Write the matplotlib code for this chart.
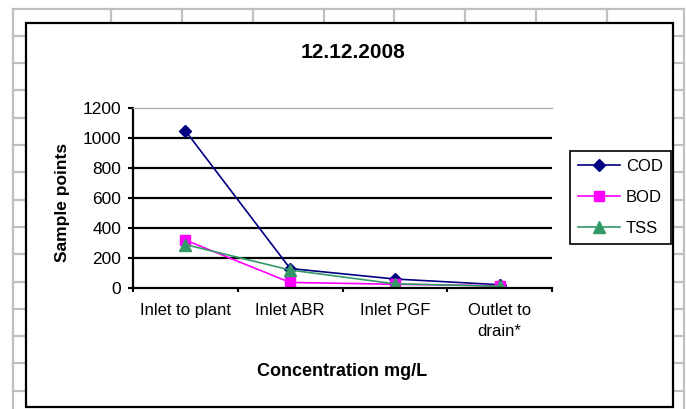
import numpy as np
import matplotlib
matplotlib.use("Agg")
import matplotlib.pyplot as plt
from matplotlib.lines import Line2D
from matplotlib.patches import Rectangle

plt.rcParams['font.family'] = ['Liberation Sans', 'DejaVu Sans']

# data
categories = ["Inlet to plant", "Inlet ABR", "Inlet PGF", "Outlet to\ndrain*"]
cod = [1050, 130, 60, 22]
bod = [320, 37, 25, 15]
tss = [290, 120, 28, 12]
yticks = [0, 200, 400, 600, 800, 1000, 1200]

W, H = 686, 409
fig = plt.figure(figsize=(W / 100, H / 100), dpi=100, facecolor='white')


def fx(x):
    return x / W


def fy(y):
    return 1 - y / H


# spreadsheet cell lines behind the chart
grey = '#c0c0c0'
def cell_line(xs, ys):
    fig.add_artist(Line2D([fx(v) for v in xs], [fy(v) for v in ys],
                          transform=fig.transFigure, color=grey, lw=1.6, zorder=-3))

cell_line([13, 13], [9, 409])
cell_line([684, 684], [9, 409])
cell_line([13, 684], [9, 9])
for cx in [111, 182, 253, 324, 394, 465, 536, 607]:
    cell_line([cx, cx], [9, 24])
for k in range(1, 15):
    ry = 8.5 + 27.3 * k
    cell_line([13, 27], [ry, ry])
    cell_line([672, 684], [ry, ry])

# chart area
fig.add_artist(Rectangle((fx(26), fy(407)), fx(673) - fx(26), fy(23) - fy(407),
                         transform=fig.transFigure, facecolor='white',
                         edgecolor='black', lw=1.6, zorder=-2))

ax = fig.add_axes([fx(133), fy(288), fx(552) - fx(133), fy(108.3) - fy(288)])
ax.set_facecolor('none')

x = np.arange(len(categories))
ax.plot(x, cod, color='#000080', lw=1.2, marker='D', markersize=5.8, label='COD')
ax.plot(x, bod, color='#ff00ff', lw=1.2, marker='s', markersize=7.5, label='BOD')
ax.plot(x, tss, color='#339966', lw=1.2, marker='^', markersize=8.5, label='TSS')

ax.set_xlim(-0.5, len(categories) - 0.5)
ax.set_ylim(0, 1200)
ax.set_yticks(yticks)
ax.set_xticks(x)
ax.set_xticklabels(categories)
ax.set_xticks(np.arange(len(categories) + 1) - 0.5, minor=True)
ax.tick_params(axis='x', which='major', length=0, pad=11, labelsize=12)
ax.tick_params(axis='x', which='minor', length=3, width=1.5, direction='out')
ax.tick_params(axis='y', length=3.6, width=1.5, pad=5, labelsize=12.5)
for lab in ax.get_xticklabels():
    lab.set_linespacing(1.45)

for v in yticks[1:-1]:
    ax.axhline(v, color='black', lw=1.6, zorder=0)
ax.spines['top'].set_color('#b0b0b0')
ax.spines['top'].set_linewidth(1.0)
ax.spines['right'].set_visible(False)
ax.spines['left'].set_linewidth(1.6)
ax.spines['bottom'].set_linewidth(1.6)

ax.set_xlabel('Concentration mg/L', fontsize=13, fontweight='bold')
ax.xaxis.set_label_coords(0.5, (288 - 371) / 179.7)
ax.xaxis.label.set_verticalalignment('center')
ax.set_ylabel('Sample points', fontsize=12.5, fontweight='bold')
ax.yaxis.set_label_coords((62 - 133) / 419, (288 - 202) / 179.7)
ax.yaxis.label.set_verticalalignment('center')

fig.text(fx(353), fy(52), '12.12.2008', fontsize=15, fontweight='bold',
         ha='center', va='center')

leg = ax.legend(loc='upper left', bbox_to_anchor=(fx(570), fy(151)),
                bbox_transform=fig.transFigure, fontsize=12, frameon=True,
                fancybox=False, edgecolor='black', framealpha=1,
                handlelength=2.5, handletextpad=0.35, labelspacing=0.95,
                borderpad=0.5, borderaxespad=0)
leg.get_frame().set_linewidth(1.2)

fig.savefig('out.png', dpi=100, facecolor='white')
